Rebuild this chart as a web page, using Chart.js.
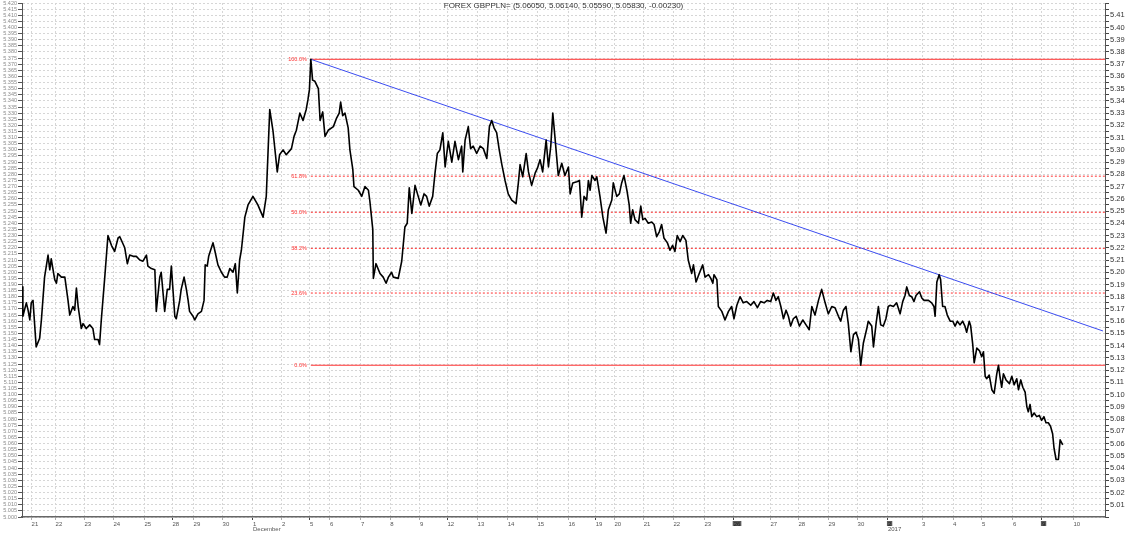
<!DOCTYPE html>
<html>
<head>
<meta charset="utf-8">
<script src="https://cdn.jsdelivr.net/npm/chart.js@4.4.1/dist/chart.umd.min.js"></script>
<style>
  html, body { margin: 0; padding: 0; background: #fff; }
  #wrap { width: 1130px; height: 533px; }
</style>
</head>
<body>
<div id="wrap"><canvas id="myChart" width="1130" height="533"></canvas></div>
<script>
const titleText = 'FOREX GBPPLN= (5.06050, 5.06140, 5.05590, 5.05830, -0.00230)';

// x is the session position (trading days from the left edge of the chart)
const dayPos = [0.33, 1.16, 2.16, 3.16, 4.23, 5.20, 5.93, 6.93, 7.98, 8.98,
  9.95, 10.64, 11.71, 12.72, 13.75, 14.70, 15.74, 16.78, 17.81, 18.88,
  19.82, 20.47, 21.48, 22.51, 23.58, 24.59, 25.86, 26.83, 27.87, 28.87,
  29.92, 31.10, 32.17, 33.17, 34.24, 35.24, 36.33];
const dayLabels = ['21', '22', '23', '24', '25', '28', '29', '30', '1', '2',
  '5', '6', '7', '8', '9', '12', '13', '14', '15', '16',
  '19', '20', '21', '22', '23', '26', '27', '28', '29', '30',
  '2', '3', '4', '5', '6', '9', '10'];
const weekStarts = [5, 8, 10, 15, 20, 25, 30, 35];
const markedDays = [25, 30, 35];
const monthPos = [dayPos[8], dayPos[30]];
const monthLabels = ['December', '2017'];

const pricePos = [
  0.00, 0.03, 0.15, 0.21, 0.27, 0.32, 0.38, 0.49, 0.61, 0.67,
  0.78, 0.90, 0.96, 1.01, 1.13, 1.19, 1.24, 1.36, 1.48, 1.59,
  1.65, 1.76, 1.82, 1.88, 1.94, 2.05, 2.11, 2.22, 2.34, 2.45,
  2.51, 2.63, 2.68, 2.74, 2.86, 2.97, 3.09, 3.20, 3.32, 3.38,
  3.55, 3.64, 3.72, 3.84, 3.95, 4.07, 4.18, 4.30, 4.35, 4.47,
  4.59, 4.64, 4.76, 4.81, 4.93, 5.02, 5.10, 5.16, 5.28, 5.33,
  5.45, 5.50, 5.60, 5.68, 5.74, 5.79, 5.91, 5.97, 6.08, 6.20,
  6.29, 6.33, 6.40, 6.45, 6.60, 6.66, 6.77, 6.89, 7.00, 7.09,
  7.18, 7.29, 7.37, 7.44, 7.52, 7.58, 7.70, 7.81, 7.98, 8.15,
  8.33, 8.44, 8.56, 8.67, 8.82, 8.90, 9.02, 9.13, 9.31, 9.40,
  9.48, 9.60, 9.71, 9.82, 9.88,
  9.93, 9.98, 10.04, 10.12, 10.24, 10.30, 10.39, 10.47, 10.58, 10.76,
  10.87, 10.96, 11.01, 11.08, 11.16, 11.27, 11.33, 11.43, 11.47, 11.62,
  11.74, 11.85, 11.97, 12.02, 12.12, 12.14, 12.23, 12.37, 12.48, 12.58,
  12.66, 12.77, 12.83, 13.00, 13.12, 13.23, 13.31, 13.38, 13.47, 13.58,
  13.69, 13.78, 13.89, 13.98, 14.07, 14.19, 14.27, 14.35, 14.44, 14.54,
  14.62, 14.73, 14.85, 14.96, 15.08, 15.19, 15.23, 15.31, 15.42, 15.50,
  15.59, 15.71, 15.83, 15.94, 16.06, 16.15, 16.23, 16.31, 16.40, 16.49,
  16.58, 16.69, 16.80, 16.92, 17.07, 17.15, 17.21, 17.30, 17.42, 17.50,
  17.61, 17.73, 17.81, 17.90, 17.99, 18.11, 18.19, 18.27, 18.34, 18.42,
  18.53, 18.65, 18.76, 18.88, 18.94, 19.03, 19.17, 19.26, 19.34, 19.42,
  19.51, 19.57, 19.63,
  19.69, 19.80, 19.86, 19.97, 20.07, 20.18, 20.26, 20.38, 20.43, 20.55,
  20.64, 20.72, 20.80, 20.90, 20.98, 21.03, 21.10, 21.18, 21.30, 21.38,
  21.45, 21.53, 21.64, 21.76, 21.84, 21.93, 22.02, 22.10, 22.18, 22.30,
  22.39, 22.48, 22.56, 22.64, 22.74, 22.83, 22.94, 23.02, 23.14, 23.20,
  23.29, 23.40, 23.52, 23.60, 23.72, 23.80, 23.87, 23.91, 24.01, 24.06,
  24.18, 24.29, 24.41, 24.52, 24.60, 24.70, 24.81, 24.92, 25.04, 25.18,
  25.29, 25.41, 25.52, 25.64, 25.75, 25.87, 25.96, 26.05, 26.13, 26.22,
  26.31, 26.40, 26.48, 26.56, 26.65, 26.75, 26.86, 26.98, 27.09, 27.20,
  27.29, 27.40, 27.52, 27.63, 27.75, 27.86, 27.98, 28.09, 28.21, 28.29,
  28.38, 28.47, 28.55, 28.64, 28.73, 28.82, 28.90, 28.98, 29.07, 29.19,
  29.24, 29.36, 29.42, 29.51, 29.59, 29.67, 29.76, 29.85, 29.93, 29.99,
  30.11, 30.22, 30.34, 30.43, 30.51, 30.57, 30.66, 30.74, 30.82, 30.89,
  31.01, 31.09, 31.17, 31.32, 31.43, 31.51, 31.55, 31.61, 31.69, 31.74,
  31.81, 31.89, 31.97, 32.07, 32.16, 32.24, 32.32, 32.41, 32.50, 32.58,
  32.64, 32.73, 32.78, 32.85, 32.90, 32.99, 33.08, 33.16, 33.22, 33.28,
  33.33, 33.42, 33.51, 33.59, 33.68, 33.74, 33.79, 33.85, 33.91, 34.00,
  34.12, 34.20, 34.28, 34.37, 34.43, 34.51, 34.58, 34.66, 34.72, 34.77,
  34.83, 34.89, 34.97, 35.06, 35.15, 35.23, 35.31, 35.38, 35.46, 35.54,
  35.61, 35.66, 35.73, 35.81, 35.87, 35.96
];
const priceVal = [
  5.188, 5.164, 5.175, 5.169, 5.161, 5.175, 5.177, 5.139, 5.146, 5.161,
  5.196, 5.214, 5.202, 5.211, 5.194, 5.191, 5.199, 5.196, 5.196, 5.177,
  5.165, 5.172, 5.169, 5.187, 5.172, 5.154, 5.158, 5.154, 5.157, 5.154,
  5.145, 5.145, 5.141, 5.161, 5.196, 5.230, 5.222, 5.217, 5.228, 5.229,
  5.220, 5.207, 5.214, 5.213, 5.213, 5.210, 5.209, 5.214, 5.205, 5.203,
  5.202, 5.168, 5.196, 5.200, 5.168, 5.186, 5.186, 5.205, 5.164, 5.162,
  5.177, 5.186, 5.196, 5.186, 5.177, 5.168, 5.164, 5.161, 5.166, 5.168,
  5.177, 5.206, 5.205, 5.213, 5.224, 5.218, 5.206, 5.200, 5.196, 5.196,
  5.203, 5.200, 5.207, 5.183, 5.210, 5.218, 5.245, 5.255, 5.262, 5.255,
  5.245, 5.262, 5.333, 5.316, 5.282, 5.296, 5.300, 5.296, 5.301, 5.311,
  5.316, 5.330, 5.324, 5.333, 5.341,
  5.349, 5.374, 5.357, 5.356, 5.350, 5.324, 5.331, 5.311, 5.316, 5.319,
  5.326, 5.330, 5.339, 5.328, 5.330, 5.318, 5.300, 5.284, 5.270, 5.267,
  5.262, 5.270, 5.267, 5.258, 5.235, 5.195, 5.207, 5.199, 5.196, 5.191,
  5.196, 5.200, 5.196, 5.195, 5.209, 5.237, 5.240, 5.269, 5.248, 5.271,
  5.262, 5.255, 5.264, 5.262, 5.254, 5.262, 5.281, 5.297, 5.300, 5.314,
  5.286, 5.307, 5.290, 5.307, 5.292, 5.303, 5.282, 5.308, 5.319, 5.301,
  5.303, 5.297, 5.303, 5.301, 5.293, 5.319, 5.324, 5.318, 5.314, 5.300,
  5.288, 5.275, 5.264, 5.259, 5.256, 5.273, 5.288, 5.278, 5.297, 5.282,
  5.271, 5.281, 5.285, 5.292, 5.282, 5.308, 5.286, 5.303, 5.330, 5.309,
  5.279, 5.289, 5.279, 5.286, 5.264, 5.273, 5.274, 5.275, 5.245, 5.262,
  5.259, 5.275, 5.267,
  5.279, 5.275, 5.278, 5.262, 5.245, 5.232, 5.251, 5.259, 5.273, 5.262,
  5.264, 5.273, 5.279, 5.267, 5.255, 5.240, 5.251, 5.243, 5.240, 5.254,
  5.243, 5.244, 5.240, 5.241, 5.239, 5.229, 5.233, 5.239, 5.228, 5.224,
  5.218, 5.222, 5.217, 5.230, 5.225, 5.230, 5.226, 5.210, 5.199, 5.206,
  5.192, 5.199, 5.206, 5.196, 5.198, 5.195, 5.191, 5.198, 5.194, 5.172,
  5.168, 5.161, 5.168, 5.172, 5.162, 5.173, 5.180, 5.175, 5.176, 5.173,
  5.176, 5.171, 5.176, 5.175, 5.177, 5.176, 5.183, 5.177, 5.180, 5.172,
  5.162, 5.169, 5.164, 5.156, 5.162, 5.164, 5.156, 5.161, 5.157, 5.153,
  5.172, 5.165, 5.177, 5.186, 5.175, 5.166, 5.172, 5.171, 5.164, 5.160,
  5.169, 5.172, 5.158, 5.135, 5.149, 5.151, 5.145, 5.124, 5.142, 5.154,
  5.160, 5.156, 5.139, 5.158, 5.172, 5.157, 5.156, 5.162, 5.172, 5.173,
  5.172, 5.175, 5.166, 5.176, 5.181, 5.188, 5.181, 5.180, 5.176, 5.181,
  5.184, 5.179, 5.177, 5.177, 5.175, 5.172, 5.164, 5.192, 5.198, 5.194,
  5.172, 5.172, 5.165, 5.160, 5.160, 5.156, 5.160, 5.157, 5.160, 5.156,
  5.151, 5.160, 5.156, 5.141, 5.126, 5.138, 5.136, 5.131, 5.135, 5.115,
  5.113, 5.116, 5.104, 5.101, 5.117, 5.124, 5.115, 5.106, 5.117, 5.112,
  5.109, 5.115, 5.108, 5.113, 5.104, 5.112, 5.106, 5.102, 5.090, 5.086,
  5.092, 5.082, 5.085, 5.082, 5.083, 5.079, 5.082, 5.077, 5.077, 5.074,
  5.068, 5.056, 5.047, 5.047, 5.063, 5.059
];

// Fibonacci retracement between the Dec 5 high and the Dec 30 low
const fibStartPos = 9.98;
const fibHigh = 5.374;
const fibLow = 5.124;
const fibRatios = [1, 0.618, 0.5, 0.382, 0.236, 0];

// resistance line from the high
const trendPos = [9.98, 37.35];
const trendVal = [5.374, 5.152];

const X_MIN = 0, X_MAX = 37.42;
const Y_MIN = 5.0, Y_MAX = 5.42;

if (pricePos.length !== priceVal.length) console.warn('length mismatch', pricePos.length, priceVal.length);

Chart.defaults.font.family = '"Liberation Sans", Arial, sans-serif';

function fixSize(size) {
  return function (scale) {
    if (scale.isHorizontal()) scale.height = size; else scale.width = size;
    scale.paddingLeft = 0; scale.paddingRight = 0;
    scale.paddingTop = 0; scale.paddingBottom = 0;
  };
}

function valueTicks(scale) {
  const t = [];
  for (let i = 0; i <= Math.round((Y_MAX - Y_MIN) / 0.005); i++) {
    t.push({ value: +(Y_MIN + i * 0.005).toFixed(3) });
  }
  scale.ticks = t;
}

const fibLevels = fibRatios.map(r => fibLow + (fibHigh - fibLow) * r);

const datasets = [{
  label: 'GBPPLN',
  data: pricePos.map((x, i) => ({ x: x, y: priceVal[i] })),
  borderColor: '#000',
  borderWidth: 1.6,
  pointRadius: 0,
  tension: 0,
  borderJoinStyle: 'round',
  order: 0
}];
fibRatios.forEach((r, i) => {
  const solid = r === 1 || r === 0;
  datasets.push({
    label: 'fib ' + r,
    data: [{ x: fibStartPos, y: fibLevels[i] }, { x: X_MAX, y: fibLevels[i] }],
    borderColor: '#ff3030',
    borderWidth: 1,
    borderDash: solid ? [] : [2, 2],
    pointRadius: 0,
    order: 2
  });
});
datasets.push({
  label: 'trend',
  data: trendPos.map((x, i) => ({ x: x, y: trendVal[i] })),
  borderColor: '#3b4cf0',
  borderWidth: 1,
  pointRadius: 0,
  order: 1
});

const textPlugin = {
  id: 'textPlugin',
  afterDatasetsDraw(chart) {
    const { ctx, chartArea, scales } = chart;
    ctx.save();
    ctx.font = '8px "Liberation Sans", Arial, sans-serif';
    ctx.fillStyle = '#333';
    ctx.textAlign = 'center';
    ctx.textBaseline = 'middle';
    ctx.fillText(titleText, (chartArea.left + chartArea.right) / 2, chartArea.top + 3);

    ctx.font = '5.5px "Liberation Sans", Arial, sans-serif';
    ctx.fillStyle = '#ff3030';
    ctx.textAlign = 'right';
    const x0 = scales.x.getPixelForValue(fibStartPos) - 4;
    fibRatios.forEach((r, i) => {
      ctx.fillText((r * 100).toFixed(1) + '%', x0, scales.y.getPixelForValue(fibLevels[i]));
    });
    ctx.restore();
  }
};

const config = {
  type: 'line',
  data: { datasets: datasets },
  options: {
    responsive: false,
    animation: false,
    layout: { padding: { top: 3, left: 0, right: 0, bottom: 0 } },
    plugins: {
      legend: { display: false },
      tooltip: { enabled: false },
      title: { display: false }
    },
    scales: {
      x: {
        type: 'linear',
        position: 'bottom',
        weight: 0,
        min: X_MIN,
        max: X_MAX,
        afterBuildTicks: s => { s.ticks = dayPos.map(v => ({ value: v })); },
        afterFit: fixSize(9),
        grid: {
          color: '#d6d6d6',
          lineWidth: 1,
          tickLength: 3,
          tickColor: c => weekStarts.includes(c.index) ? '#444' : '#aaa'
        },
        border: { display: true, color: '#666', width: 1.5, dash: [2, 2] },
        ticks: {
          autoSkip: false,
          maxRotation: 0,
          minRotation: 0,
          align: 'start',
          padding: 1,
          font: { size: 6 },
          color: c => markedDays.includes(c.index) ? '#222' : '#555',
          callback: (v, i) => dayLabels[i],
          showLabelBackdrop: c => markedDays.includes(c.index),
          backdropColor: '#5a5a5a',
          backdropPadding: { left: 1, right: 1, top: 0, bottom: 0 }
        }
      },
      xm: {
        type: 'linear',
        position: 'bottom',
        weight: 1,
        min: X_MIN,
        max: X_MAX,
        afterBuildTicks: s => { s.ticks = monthPos.map(v => ({ value: v })); },
        afterFit: fixSize(7),
        grid: { display: false, drawTicks: false },
        border: { display: false },
        ticks: {
          autoSkip: false,
          maxRotation: 0,
          minRotation: 0,
          align: 'start',
          padding: 0,
          font: { size: 6 },
          color: '#555',
          callback: (v, i) => monthLabels[i]
        }
      },
      y: {
        type: 'linear',
        position: 'left',
        min: Y_MIN,
        max: Y_MAX,
        afterBuildTicks: valueTicks,
        afterFit: fixSize(22),
        grid: { color: '#d6d6d6', lineWidth: 1, tickLength: 4, tickColor: '#555' },
        border: { display: true, color: '#555', width: 1, dash: [2, 2] },
        ticks: {
          autoSkip: false,
          padding: 1,
          font: { size: 5.5 },
          color: '#8a8a8a',
          callback: v => v.toFixed(3)
        }
      },
      yr: {
        type: 'linear',
        position: 'right',
        min: Y_MIN,
        max: Y_MAX,
        afterBuildTicks: valueTicks,
        afterFit: fixSize(25),
        grid: { drawOnChartArea: false, tickLength: 4, tickColor: '#444' },
        border: { display: true, color: '#555', width: 1 },
        ticks: {
          autoSkip: false,
          padding: 1,
          font: { size: 7.5 },
          color: '#333',
          callback: v => {
            const m = Math.round(v * 1000);
            if (m % 10 !== 0 || m === 5000 || m === 5420) return '';
            return v.toFixed(2);
          }
        }
      }
    }
  },
  plugins: [textPlugin]
};

const ctx = document.getElementById('myChart').getContext('2d');
new Chart(ctx, config);
</script>
</body>
</html>
